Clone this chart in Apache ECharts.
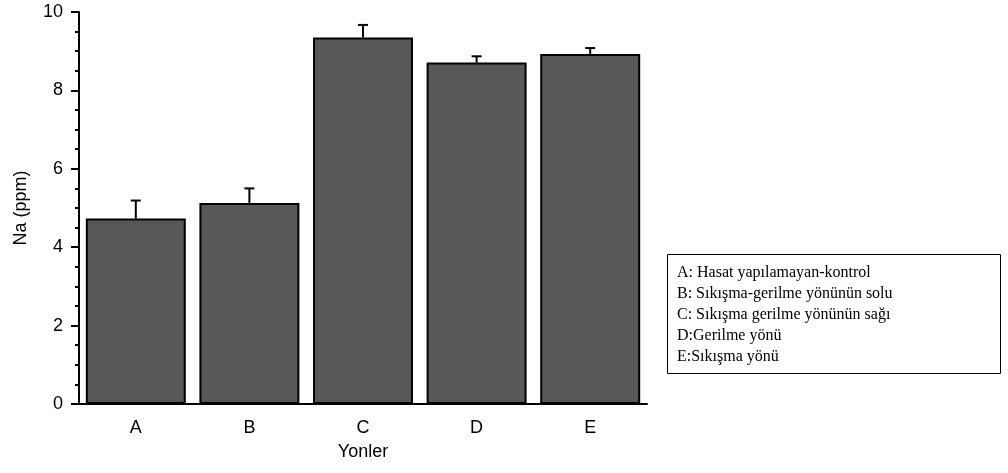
<!DOCTYPE html>
<html>
<head>
<meta charset="utf-8">
<script src="https://cdn.jsdelivr.net/npm/echarts@6/dist/echarts.min.js"></script>
<style>
  html, body { margin: 0; padding: 0; background: #fff; }
  #main { width: 1008px; height: 473px; }
</style>
</head>
<body>
<div id="main"></div>
<script>
  // veriler
  var categories = ['A', 'B', 'C', 'D', 'E'];
  var naValues = [4.73, 5.13, 9.35, 8.71, 8.93];
  var naErrors = [0.46, 0.37, 0.32, 0.16, 0.15];
  var legendLines = [
    'A: Hasat yapılamayan-kontrol',
    'B: Sıkışma-gerilme yönünün solu',
    'C: Sıkışma gerilme yönünün sağı',
    'D:Gerilme yönü',
    'E:Sıkışma yönü'
  ];

  var myChart = echarts.init(document.getElementById('main'));

  var errData = categories.map(function (c, i) {
    return [i, naValues[i], naValues[i] + naErrors[i]];
  });

  var option = {
    animation: false,
    textStyle: { fontFamily: 'Liberation Sans, Arial' },
    grid: { left: 79, right: 361, top: 12, bottom: 69 },
    xAxis: {
      type: 'category',
      data: categories,
      name: 'Yonler',
      nameLocation: 'middle',
      nameGap: 39,
      nameTextStyle: { color: '#000', fontSize: 18 },
      axisLine: { lineStyle: { color: '#000', width: 2 } },
      axisTick: { alignWithLabel: true, length: 4, lineStyle: { color: '#000', width: 2 } },
      axisLabel: { color: '#000', fontSize: 18, margin: 15 }
    },
    yAxis: {
      type: 'value',
      min: 0,
      max: 10,
      interval: 2,
      name: 'Na (ppm)',
      nameLocation: 'middle',
      nameGap: 49,
      nameTextStyle: { color: '#000', fontSize: 18 },
      axisLine: { show: true, lineStyle: { color: '#000', width: 2 } },
      axisTick: { show: true, length: 8, lineStyle: { color: '#000', width: 2 } },
      minorTick: { show: true, splitNumber: 4, length: 4, lineStyle: { color: '#000', width: 2 } },
      splitLine: { show: false },
      axisLabel: { color: '#000', fontSize: 18, margin: 16 }
    },
    series: [
      {
        type: 'bar',
        data: naValues,
        barCategoryGap: '12%',
        itemStyle: { color: '#585858', borderColor: '#000', borderWidth: 2 }
      },
      {
        type: 'custom',
        data: errData,
        z: 5,
        renderItem: function (params, api) {
          var i = api.value(0);
          var lo = api.coord([i, api.value(1)]);
          var hi = api.coord([i, api.value(2)]);
          var style = { stroke: '#000', lineWidth: 2 };
          return {
            type: 'group',
            children: [
              { type: 'line', shape: { x1: lo[0], y1: lo[1], x2: hi[0], y2: hi[1] }, style: style },
              { type: 'line', shape: { x1: hi[0] - 5, y1: hi[1], x2: hi[0] + 5, y2: hi[1] }, style: style }
            ]
          };
        }
      }
    ],
    graphic: [
      {
        type: 'rect',
        left: 667,
        top: 254,
        shape: { width: 333, height: 119 },
        style: { fill: '#fff', stroke: '#000', lineWidth: 1 }
      },
      {
        type: 'text',
        left: 677,
        top: 262,
        style: {
          text: legendLines.join('\n'),
          font: '16px "Liberation Serif", "Times New Roman", serif',
          lineHeight: 21,
          fill: '#000'
        }
      }
    ]
  };

  myChart.setOption(option);
</script>
</body>
</html>
